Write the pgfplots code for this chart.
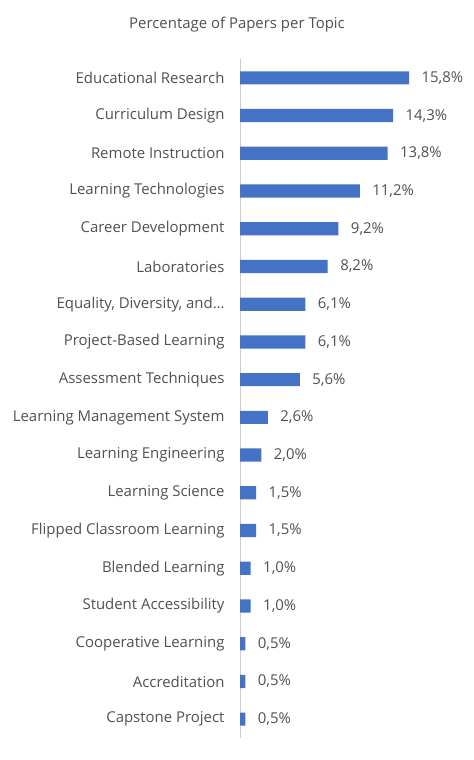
\documentclass[border=0pt]{standalone}
\usepackage{pgfplots}
\pgfplotsset{compat=1.18}
\usepackage{pgfplotstable}
\usepackage{fontspec}
\setmainfont{Open Sans}
\definecolor{barblue}{HTML}{4472C4}
\definecolor{txt}{HTML}{505050}
\pgfplotstableread[col sep=comma]{
idx,val,lab
0,15.8,{15,8\%}
1,14.3,{14,3\%}
2,13.8,{13,8\%}
3,11.2,{11,2\%}
4,9.2,{9,2\%}
5,8.2,{8,2\%}
6,6.1,{6,1\%}
7,6.1,{6,1\%}
8,5.6,{5,6\%}
9,2.6,{2,6\%}
10,2.0,{2,0\%}
11,1.5,{1,5\%}
12,1.5,{1,5\%}
13,1.0,{1,0\%}
14,1.0,{1,0\%}
15,0.5,{0,5\%}
16,0.5,{0,5\%}
17,0.5,{0,5\%}
}\datatable
\begin{document}
\begin{tikzpicture}[x=1bp,y=1bp]
\path (0,0) rectangle (474,760);
\node[text=txt, font=\fontsize{15}{17}\selectfont] at (237,735) {Percentage of Papers per Topic};
\begin{axis}[
  at={(240bp,22bp)}, anchor=south west,
  width=214bp, height=679bp, scale only axis,
  xmin=0, xmax=20, ymin=-0.5, ymax=17.5,
  y dir=reverse,
  axis x line=none,
  axis y line=left,
  y axis line style={-, draw=black!20},
  ytick=data,
  yticklabels={Educational Research, Curriculum Design, Remote Instruction, Learning Technologies, Career Development, Laboratories, {Equality, Diversity, and\ldots}, Project-Based Learning, Assessment Techniques, Learning Management System, Learning Engineering, Learning Science, Flipped Classroom Learning, Blended Learning, Student Accessibility, Cooperative Learning, Accreditation, Capstone Project},
  major tick length=0pt,
  yticklabel style={text=txt, font=\fontsize{15}{17}\selectfont, xshift=-12bp},
  xbar, bar width=0.35,
  nodes near coords,
  point meta=explicit symbolic,
  nodes near coords style={text=txt, font=\fontsize{15}{17}\selectfont, anchor=west, xshift=9bp},
  clip=false,
]
\addplot[fill=barblue, draw=none] table[x=val, y=idx, meta=lab] {\datatable};
\end{axis}
\end{tikzpicture}
\end{document}
